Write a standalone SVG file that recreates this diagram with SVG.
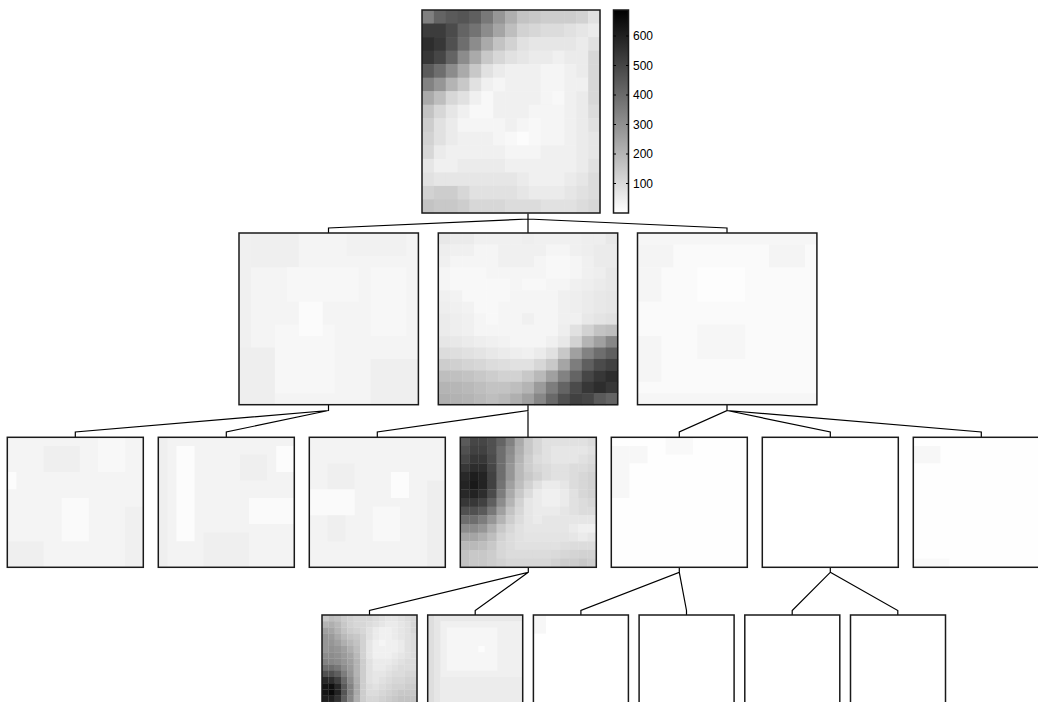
<svg xmlns="http://www.w3.org/2000/svg" width="1038" height="702" viewBox="0 0 1038 702">
<style>
.c rect{width:1.04px;height:1.04px}
.frame{fill:none;stroke:#1a1a1a;stroke-width:1.5}
#connectors path{fill:none;stroke:#000;stroke-width:1.2}
.tick{stroke:#000;stroke-width:1}
text{font-family:"Liberation Sans",Arial,sans-serif;font-size:12px;fill:#000}
</style>
<defs>
<linearGradient id="cbar" x1="0" y1="0" x2="0" y2="1"><stop offset="0" stop-color="#000"/><stop offset="1" stop-color="#fff"/></linearGradient>
</defs>
<rect width="1038" height="702" fill="#fff"/>

<g id="connectors">
<path d="M528,213V219L328.5,228V233M528,219V233M528,219L727,228V233"/>
<path d="M328.5,405V410.5L75.3,432V437.3M328.5,410.5L226.3,432V437.3"/>
<path d="M528,405V410.5L377.3,432V437.3M528,410.5V437.3"/>
<path d="M727,405V410.5L679.3,432V437.3M727,410.5L830.3,432V437.3M727,410.5L981.3,432V437.3"/>
<path d="M528.3,567.3V572.3L369.5,610.5V615M528.3,572.3L475.2,610.5V615"/>
<path d="M679.3,567.3V572.3L580.9,610.5V615M679.3,572.3L686.5,610.5V615"/>
<path d="M830.3,567.3V572.3L792.2,610.5V615M830.3,572.3L897.8,610.5V615"/>
</g>

<g id="root">
<g class="c" transform="translate(422,10) scale(11.867,13.533)">
<g><rect x="0" fill="#808080"/><rect x="1" fill="#646464"/><rect x="2" fill="#5a5a5a"/><rect x="3" fill="#555555"/><rect x="4" fill="#5f5f5f"/><rect x="5" fill="#787878"/><rect x="6" fill="#969696"/><rect x="7" fill="#afafaf"/><rect x="8" fill="#c3c3c3"/><rect x="9" fill="#c8c8c8"/><rect x="10" fill="#cdcdcd"/><rect x="11" fill="#cdcdcd"/><rect x="12" fill="#cdcdcd"/><rect x="13" fill="#d2d2d2"/><rect x="14" fill="#e1e1e1"/></g>
<g transform="translate(0,1)"><rect x="0" fill="#3c3c3c"/><rect x="1" fill="#3c3c3c"/><rect x="2" fill="#4b4b4b"/><rect x="3" fill="#646464"/><rect x="4" fill="#737373"/><rect x="5" fill="#8c8c8c"/><rect x="6" fill="#a5a5a5"/><rect x="7" fill="#bebebe"/><rect x="8" fill="#d2d2d2"/><rect x="9" fill="#d7d7d7"/><rect x="10" fill="#dcdcdc"/><rect x="11" fill="#dcdcdc"/><rect x="12" fill="#e1e1e1"/><rect x="13" fill="#e6e6e6"/><rect x="14" fill="#ebebeb"/></g>
<g transform="translate(0,2)"><rect x="0" fill="#2d2d2d"/><rect x="1" fill="#373737"/><rect x="2" fill="#505050"/><rect x="3" fill="#6e6e6e"/><rect x="4" fill="#8c8c8c"/><rect x="5" fill="#aaaaaa"/><rect x="6" fill="#c3c3c3"/><rect x="7" fill="#d2d2d2"/><rect x="8" fill="#e1e1e1"/><rect x="9" fill="#e6e6e6"/><rect x="10" fill="#e6e6e6"/><rect x="11" fill="#e6e6e6"/><rect x="12" fill="#e6e6e6"/><rect x="13" fill="#ebebeb"/><rect x="14" fill="#e1e1e1"/></g>
<g transform="translate(0,3)"><rect x="0" fill="#373737"/><rect x="1" fill="#464646"/><rect x="2" fill="#646464"/><rect x="3" fill="#8c8c8c"/><rect x="4" fill="#aaaaaa"/><rect x="5" fill="#c8c8c8"/><rect x="6" fill="#d7d7d7"/><rect x="7" fill="#e1e1e1"/><rect x="8" fill="#e6e6e6"/><rect x="9" fill="#ebebeb"/><rect x="10" fill="#ebebeb"/><rect x="11" fill="#f0f0f0"/><rect x="12" fill="#ebebeb"/><rect x="13" fill="#ebebeb"/><rect x="14" fill="#d7d7d7"/></g>
<g transform="translate(0,4)"><rect x="0" fill="#5a5a5a"/><rect x="1" fill="#6e6e6e"/><rect x="2" fill="#8c8c8c"/><rect x="3" fill="#aaaaaa"/><rect x="4" fill="#c8c8c8"/><rect x="5" fill="#e1e1e1"/><rect x="6" fill="#ebebeb"/><rect x="7" fill="#f0f0f0"/><rect x="8" fill="#f0f0f0"/><rect x="9" fill="#f0f0f0"/><rect x="10" fill="#f5f5f5"/><rect x="11" fill="#f5f5f5"/><rect x="12" fill="#f0f0f0"/><rect x="13" fill="#ebebeb"/><rect x="14" fill="#d7d7d7"/></g>
<g transform="translate(0,5)"><rect x="0" fill="#828282"/><rect x="1" fill="#969696"/><rect x="2" fill="#b4b4b4"/><rect x="3" fill="#c8c8c8"/><rect x="4" fill="#e1e1e1"/><rect x="5" fill="#f0f0f0"/><rect x="6" fill="#f5f5f5"/><rect x="7" fill="#f0f0f0"/><rect x="8" fill="#f0f0f0"/><rect x="9" fill="#f0f0f0"/><rect x="10" fill="#f5f5f5"/><rect x="11" fill="#f5f5f5"/><rect x="12" fill="#f0f0f0"/><rect x="13" fill="#f0f0f0"/><rect x="14" fill="#d7d7d7"/></g>
<g transform="translate(0,6)"><rect x="0" fill="#aaaaaa"/><rect x="1" fill="#bebebe"/><rect x="2" fill="#d7d7d7"/><rect x="3" fill="#e1e1e1"/><rect x="4" fill="#f0f0f0"/><rect x="5" fill="#f8f8f8"/><rect x="6" fill="#f0f0f0"/><rect x="7" fill="#f0f0f0"/><rect x="8" fill="#f0f0f0"/><rect x="9" fill="#f0f0f0"/><rect x="10" fill="#f5f5f5"/><rect x="11" fill="#f8f8f8"/><rect x="12" fill="#f0f0f0"/><rect x="13" fill="#ebebeb"/><rect x="14" fill="#d7d7d7"/></g>
<g transform="translate(0,7)"><rect x="0" fill="#c3c3c3"/><rect x="1" fill="#d7d7d7"/><rect x="2" fill="#e6e6e6"/><rect x="3" fill="#f0f0f0"/><rect x="4" fill="#f8f8f8"/><rect x="5" fill="#f8f8f8"/><rect x="6" fill="#f0f0f0"/><rect x="7" fill="#f0f0f0"/><rect x="8" fill="#f0f0f0"/><rect x="9" fill="#f5f5f5"/><rect x="10" fill="#f5f5f5"/><rect x="11" fill="#f5f5f5"/><rect x="12" fill="#f0f0f0"/><rect x="13" fill="#ebebeb"/><rect x="14" fill="#dcdcdc"/></g>
<g transform="translate(0,8)"><rect x="0" fill="#cdcdcd"/><rect x="1" fill="#e1e1e1"/><rect x="2" fill="#ebebeb"/><rect x="3" fill="#f5f5f5"/><rect x="4" fill="#f5f5f5"/><rect x="5" fill="#f5f5f5"/><rect x="6" fill="#f5f5f5"/><rect x="7" fill="#f0f0f0"/><rect x="8" fill="#f5f5f5"/><rect x="9" fill="#f8f8f8"/><rect x="10" fill="#f5f5f5"/><rect x="11" fill="#f5f5f5"/><rect x="12" fill="#f0f0f0"/><rect x="13" fill="#ebebeb"/><rect x="14" fill="#e1e1e1"/></g>
<g transform="translate(0,9)"><rect x="0" fill="#d2d2d2"/><rect x="1" fill="#e1e1e1"/><rect x="2" fill="#ebebeb"/><rect x="3" fill="#f0f0f0"/><rect x="4" fill="#f0f0f0"/><rect x="5" fill="#f0f0f0"/><rect x="6" fill="#f5f5f5"/><rect x="7" fill="#f8f8f8"/><rect x="8" fill="#fcfcfc"/><rect x="9" fill="#f8f8f8"/><rect x="10" fill="#f5f5f5"/><rect x="11" fill="#f5f5f5"/><rect x="12" fill="#f0f0f0"/><rect x="13" fill="#ebebeb"/><rect x="14" fill="#e6e6e6"/></g>
<g transform="translate(0,10)"><rect x="0" fill="#d7d7d7"/><rect x="1" fill="#ebebeb"/><rect x="2" fill="#f0f0f0"/><rect x="3" fill="#f0f0f0"/><rect x="4" fill="#f0f0f0"/><rect x="5" fill="#f0f0f0"/><rect x="6" fill="#f0f0f0"/><rect x="7" fill="#f5f5f5"/><rect x="8" fill="#f5f5f5"/><rect x="9" fill="#f5f5f5"/><rect x="10" fill="#f0f0f0"/><rect x="11" fill="#f0f0f0"/><rect x="12" fill="#f0f0f0"/><rect x="13" fill="#ebebeb"/><rect x="14" fill="#e6e6e6"/></g>
<g transform="translate(0,11)"><rect x="0" fill="#e6e6e6"/><rect x="1" fill="#f0f0f0"/><rect x="2" fill="#f0f0f0"/><rect x="3" fill="#ebebeb"/><rect x="4" fill="#ebebeb"/><rect x="5" fill="#ebebeb"/><rect x="6" fill="#ebebeb"/><rect x="7" fill="#f0f0f0"/><rect x="8" fill="#f0f0f0"/><rect x="9" fill="#f0f0f0"/><rect x="10" fill="#f0f0f0"/><rect x="11" fill="#f0f0f0"/><rect x="12" fill="#f0f0f0"/><rect x="13" fill="#ebebeb"/><rect x="14" fill="#e1e1e1"/></g>
<g transform="translate(0,12)"><rect x="0" fill="#e1e1e1"/><rect x="1" fill="#e6e6e6"/><rect x="2" fill="#e6e6e6"/><rect x="3" fill="#e6e6e6"/><rect x="4" fill="#e6e6e6"/><rect x="5" fill="#e6e6e6"/><rect x="6" fill="#e6e6e6"/><rect x="7" fill="#e6e6e6"/><rect x="8" fill="#ebebeb"/><rect x="9" fill="#f0f0f0"/><rect x="10" fill="#f0f0f0"/><rect x="11" fill="#f0f0f0"/><rect x="12" fill="#ebebeb"/><rect x="13" fill="#e6e6e6"/><rect x="14" fill="#dcdcdc"/></g>
<g transform="translate(0,13)"><rect x="0" fill="#d2d2d2"/><rect x="1" fill="#cdcdcd"/><rect x="2" fill="#cdcdcd"/><rect x="3" fill="#d7d7d7"/><rect x="4" fill="#e1e1e1"/><rect x="5" fill="#e1e1e1"/><rect x="6" fill="#e1e1e1"/><rect x="7" fill="#e1e1e1"/><rect x="8" fill="#e6e6e6"/><rect x="9" fill="#ebebeb"/><rect x="10" fill="#ebebeb"/><rect x="11" fill="#ebebeb"/><rect x="12" fill="#e6e6e6"/><rect x="13" fill="#e1e1e1"/><rect x="14" fill="#dcdcdc"/></g>
<g transform="translate(0,14)"><rect x="0" fill="#c3c3c3"/><rect x="1" fill="#c8c8c8"/><rect x="2" fill="#c8c8c8"/><rect x="3" fill="#cdcdcd"/><rect x="4" fill="#d7d7d7"/><rect x="5" fill="#d7d7d7"/><rect x="6" fill="#d7d7d7"/><rect x="7" fill="#dcdcdc"/><rect x="8" fill="#dcdcdc"/><rect x="9" fill="#dcdcdc"/><rect x="10" fill="#e1e1e1"/><rect x="11" fill="#e1e1e1"/><rect x="12" fill="#e1e1e1"/><rect x="13" fill="#dcdcdc"/><rect x="14" fill="#d7d7d7"/></g>
</g>
<rect class="frame" x="422" y="10" width="178" height="203"/>
<rect x="613.5" y="10" width="15" height="203" fill="url(#cbar)" stroke="#1a1a1a" stroke-width="1.5"/>
<path class="tick" d="M613.5,36H616M626,36H628.5M613.5,65.5H616M626,65.5H628.5M613.5,95H616M626,95H628.5M613.5,124.5H616M626,124.5H628.5M613.5,154H616M626,154H628.5M613.5,183.5H616M626,183.5H628.5"/>
<text x="633" y="40.3">600</text>
<text x="633" y="69.8">500</text>
<text x="633" y="99.3">400</text>
<text x="633" y="128.8">300</text>
<text x="633" y="158.3">200</text>
<text x="633" y="187.8">100</text>
</g>

<g id="n2a">
<g transform="translate(239,233) scale(11.96,11.45)">
<rect width="15" height="15" fill="#f4f4f4"/>
<rect x="0" y="0" width="1" height="15" fill="#f0f0f0"/>
<rect x="1" y="0" width="4" height="3" fill="#efefef"/>
<rect x="9" y="0" width="5" height="2" fill="#f1f1f1"/>
<rect x="4" y="3" width="6" height="3" fill="#f7f7f7"/>
<rect x="11" y="3" width="3" height="6" fill="#f7f7f7"/>
<rect x="3" y="8" width="5" height="6" fill="#f7f7f7"/>
<rect x="5" y="6" width="2" height="3" fill="#fbfbfb"/>
<rect x="0" y="10" width="3" height="5" fill="#eeeeee"/>
<rect x="11" y="11" width="4" height="4" fill="#efefef"/>
</g>
<rect class="frame" x="239" y="233" width="179.4" height="171.7"/>
</g>

<g id="n2b">
<g class="c" transform="translate(438.3,233) scale(11.96,11.45)">
<g><rect x="0" fill="#e8e8e8"/><rect x="1" fill="#ebebeb"/><rect x="2" fill="#ebebeb"/><rect x="3" fill="#f0f0f0"/><rect x="4" fill="#f0f0f0"/><rect x="5" fill="#f0f0f0"/><rect x="6" fill="#f0f0f0"/><rect x="7" fill="#eeeeee"/><rect x="8" fill="#f0f0f0"/><rect x="9" fill="#f0f0f0"/><rect x="10" fill="#f0f0f0"/><rect x="11" fill="#f0f0f0"/><rect x="12" fill="#eeeeee"/><rect x="13" fill="#eeeeee"/><rect x="14" fill="#e8e8e8"/></g>
<g transform="translate(0,1)"><rect x="0" fill="#eeeeee"/><rect x="1" fill="#f0f0f0"/><rect x="2" fill="#f0f0f0"/><rect x="3" fill="#f5f5f5"/><rect x="4" fill="#f5f5f5"/><rect x="5" fill="#f0f0f0"/><rect x="6" fill="#f0f0f0"/><rect x="7" fill="#f0f0f0"/><rect x="8" fill="#f0f0f0"/><rect x="9" fill="#f5f5f5"/><rect x="10" fill="#f5f5f5"/><rect x="11" fill="#f0f0f0"/><rect x="12" fill="#eeeeee"/><rect x="13" fill="#ebebeb"/><rect x="14" fill="#ebebeb"/></g>
<g transform="translate(0,2)"><rect x="0" fill="#f0f0f0"/><rect x="1" fill="#f5f5f5"/><rect x="2" fill="#f5f5f5"/><rect x="3" fill="#f5f5f5"/><rect x="4" fill="#f5f5f5"/><rect x="5" fill="#f0f0f0"/><rect x="6" fill="#f0f0f0"/><rect x="7" fill="#f0f0f0"/><rect x="8" fill="#f5f5f5"/><rect x="9" fill="#f8f8f8"/><rect x="10" fill="#f8f8f8"/><rect x="11" fill="#f5f5f5"/><rect x="12" fill="#f0f0f0"/><rect x="13" fill="#ebebeb"/><rect x="14" fill="#ebebeb"/></g>
<g transform="translate(0,3)"><rect x="0" fill="#f5f5f5"/><rect x="1" fill="#f8f8f8"/><rect x="2" fill="#f8f8f8"/><rect x="3" fill="#f8f8f8"/><rect x="4" fill="#f5f5f5"/><rect x="5" fill="#f5f5f5"/><rect x="6" fill="#f5f5f5"/><rect x="7" fill="#f5f5f5"/><rect x="8" fill="#f5f5f5"/><rect x="9" fill="#f8f8f8"/><rect x="10" fill="#f8f8f8"/><rect x="11" fill="#f5f5f5"/><rect x="12" fill="#f0f0f0"/><rect x="13" fill="#eeeeee"/><rect x="14" fill="#e8e8e8"/></g>
<g transform="translate(0,4)"><rect x="0" fill="#f5f5f5"/><rect x="1" fill="#f8f8f8"/><rect x="2" fill="#f8f8f8"/><rect x="3" fill="#f8f8f8"/><rect x="4" fill="#f8f8f8"/><rect x="5" fill="#f8f8f8"/><rect x="6" fill="#f5f5f5"/><rect x="7" fill="#f8f8f8"/><rect x="8" fill="#f8f8f8"/><rect x="9" fill="#f5f5f5"/><rect x="10" fill="#f5f5f5"/><rect x="11" fill="#f0f0f0"/><rect x="12" fill="#eeeeee"/><rect x="13" fill="#ebebeb"/><rect x="14" fill="#e8e8e8"/></g>
<g transform="translate(0,5)"><rect x="0" fill="#f0f0f0"/><rect x="1" fill="#f2f2f2"/><rect x="2" fill="#f8f8f8"/><rect x="3" fill="#f8f8f8"/><rect x="4" fill="#f8f8f8"/><rect x="5" fill="#f8f8f8"/><rect x="6" fill="#f5f5f5"/><rect x="7" fill="#f5f5f5"/><rect x="8" fill="#f5f5f5"/><rect x="9" fill="#f5f5f5"/><rect x="10" fill="#f0f0f0"/><rect x="11" fill="#eeeeee"/><rect x="12" fill="#ebebeb"/><rect x="13" fill="#e8e8e8"/><rect x="14" fill="#e6e6e6"/></g>
<g transform="translate(0,6)"><rect x="0" fill="#eeeeee"/><rect x="1" fill="#f0f0f0"/><rect x="2" fill="#f2f2f2"/><rect x="3" fill="#f8f8f8"/><rect x="4" fill="#f8f8f8"/><rect x="5" fill="#f5f5f5"/><rect x="6" fill="#f5f5f5"/><rect x="7" fill="#f5f5f5"/><rect x="8" fill="#f5f5f5"/><rect x="9" fill="#f5f5f5"/><rect x="10" fill="#f0f0f0"/><rect x="11" fill="#eeeeee"/><rect x="12" fill="#ebebeb"/><rect x="13" fill="#e8e8e8"/><rect x="14" fill="#e6e6e6"/></g>
<g transform="translate(0,7)"><rect x="0" fill="#ebebeb"/><rect x="1" fill="#eeeeee"/><rect x="2" fill="#f0f0f0"/><rect x="3" fill="#f5f5f5"/><rect x="4" fill="#f8f8f8"/><rect x="5" fill="#f5f5f5"/><rect x="6" fill="#f5f5f5"/><rect x="7" fill="#f0f0f0"/><rect x="8" fill="#f5f5f5"/><rect x="9" fill="#f5f5f5"/><rect x="10" fill="#f0f0f0"/><rect x="11" fill="#f0f0f0"/><rect x="12" fill="#e8e8e8"/><rect x="13" fill="#e4e4e4"/><rect x="14" fill="#e1e1e1"/></g>
<g transform="translate(0,8)"><rect x="0" fill="#ebebeb"/><rect x="1" fill="#eeeeee"/><rect x="2" fill="#f0f0f0"/><rect x="3" fill="#f5f5f5"/><rect x="4" fill="#f5f5f5"/><rect x="5" fill="#f5f5f5"/><rect x="6" fill="#f5f5f5"/><rect x="7" fill="#f5f5f5"/><rect x="8" fill="#f5f5f5"/><rect x="9" fill="#f5f5f5"/><rect x="10" fill="#eeeeee"/><rect x="11" fill="#e1e1e1"/><rect x="12" fill="#d2d2d2"/><rect x="13" fill="#c3c3c3"/><rect x="14" fill="#bebebe"/></g>
<g transform="translate(0,9)"><rect x="0" fill="#e6e6e6"/><rect x="1" fill="#e8e8e8"/><rect x="2" fill="#ebebeb"/><rect x="3" fill="#eeeeee"/><rect x="4" fill="#f0f0f0"/><rect x="5" fill="#f2f2f2"/><rect x="6" fill="#f5f5f5"/><rect x="7" fill="#f5f5f5"/><rect x="8" fill="#f5f5f5"/><rect x="9" fill="#f0f0f0"/><rect x="10" fill="#e8e8e8"/><rect x="11" fill="#d2d2d2"/><rect x="12" fill="#b4b4b4"/><rect x="13" fill="#a0a0a0"/><rect x="14" fill="#878787"/></g>
<g transform="translate(0,10)"><rect x="0" fill="#dcdcdc"/><rect x="1" fill="#dedede"/><rect x="2" fill="#e1e1e1"/><rect x="3" fill="#e4e4e4"/><rect x="4" fill="#e8e8e8"/><rect x="5" fill="#ebebeb"/><rect x="6" fill="#eeeeee"/><rect x="7" fill="#f0f0f0"/><rect x="8" fill="#ebebeb"/><rect x="9" fill="#e1e1e1"/><rect x="10" fill="#c8c8c8"/><rect x="11" fill="#a0a0a0"/><rect x="12" fill="#828282"/><rect x="13" fill="#6e6e6e"/><rect x="14" fill="#5f5f5f"/></g>
<g transform="translate(0,11)"><rect x="0" fill="#cdcdcd"/><rect x="1" fill="#d0d0d0"/><rect x="2" fill="#d4d4d4"/><rect x="3" fill="#d7d7d7"/><rect x="4" fill="#dcdcdc"/><rect x="5" fill="#dedede"/><rect x="6" fill="#e1e1e1"/><rect x="7" fill="#e1e1e1"/><rect x="8" fill="#d7d7d7"/><rect x="9" fill="#c8c8c8"/><rect x="10" fill="#a5a5a5"/><rect x="11" fill="#7d7d7d"/><rect x="12" fill="#5f5f5f"/><rect x="13" fill="#4b4b4b"/><rect x="14" fill="#414141"/></g>
<g transform="translate(0,12)"><rect x="0" fill="#bebebe"/><rect x="1" fill="#c0c0c0"/><rect x="2" fill="#c3c3c3"/><rect x="3" fill="#c8c8c8"/><rect x="4" fill="#cdcdcd"/><rect x="5" fill="#d2d2d2"/><rect x="6" fill="#d2d2d2"/><rect x="7" fill="#c8c8c8"/><rect x="8" fill="#b9b9b9"/><rect x="9" fill="#a0a0a0"/><rect x="10" fill="#828282"/><rect x="11" fill="#646464"/><rect x="12" fill="#464646"/><rect x="13" fill="#373737"/><rect x="14" fill="#2d2d2d"/></g>
<g transform="translate(0,13)"><rect x="0" fill="#b4b4b4"/><rect x="1" fill="#b6b6b6"/><rect x="2" fill="#b9b9b9"/><rect x="3" fill="#bebebe"/><rect x="4" fill="#c3c3c3"/><rect x="5" fill="#c3c3c3"/><rect x="6" fill="#bebebe"/><rect x="7" fill="#b4b4b4"/><rect x="8" fill="#9b9b9b"/><rect x="9" fill="#7d7d7d"/><rect x="10" fill="#646464"/><rect x="11" fill="#4b4b4b"/><rect x="12" fill="#373737"/><rect x="13" fill="#2d2d2d"/><rect x="14" fill="#373737"/></g>
<g transform="translate(0,14)"><rect x="0" fill="#afafaf"/><rect x="1" fill="#b2b2b2"/><rect x="2" fill="#b4b4b4"/><rect x="3" fill="#b9b9b9"/><rect x="4" fill="#bebebe"/><rect x="5" fill="#b9b9b9"/><rect x="6" fill="#afafaf"/><rect x="7" fill="#a0a0a0"/><rect x="8" fill="#878787"/><rect x="9" fill="#696969"/><rect x="10" fill="#505050"/><rect x="11" fill="#414141"/><rect x="12" fill="#464646"/><rect x="13" fill="#5a5a5a"/><rect x="14" fill="#646464"/></g>
</g>
<rect class="frame" x="438.3" y="233" width="179.4" height="171.7"/>
</g>

<g id="n2c">
<g transform="translate(637.5,233) scale(11.96,11.45)">
<rect width="15" height="15" fill="#fafafa"/>
<rect x="0" y="0" width="15" height="1" fill="#f6f6f6"/>
<rect x="0" y="1" width="3" height="2" fill="#f4f4f4"/>
<rect x="11" y="1" width="3" height="2" fill="#f4f4f4"/>
<rect x="0" y="3" width="2" height="3" fill="#f5f5f5"/>
<rect x="5" y="3" width="4" height="3" fill="#fdfdfd"/>
<rect x="5" y="8" width="4" height="3" fill="#f6f6f6"/>
<rect x="0" y="9" width="2" height="4" fill="#f5f5f5"/>
<rect x="0" y="14" width="15" height="1" fill="#f6f6f6"/>
</g>
<rect class="frame" x="637.5" y="233" width="179.4" height="171.7"/>
</g>

<g id="n3a">
<g transform="translate(7.3,437.3) scale(9.067,8.667)">
<rect width="15" height="15" fill="#f4f4f4"/>
<rect x="4" y="1" width="4" height="3" fill="#efefef"/>
<rect x="10" y="0" width="3" height="4" fill="#f8f8f8"/>
<rect x="0" y="4" width="1" height="2" fill="#fcfcfc"/>
<rect x="6" y="7" width="3" height="5" fill="#fafafa"/>
<rect x="0" y="12" width="4" height="3" fill="#efefef"/>
<rect x="13" y="8" width="2" height="7" fill="#f0f0f0"/>
</g>
<rect class="frame" x="7.3" y="437.3" width="136" height="130"/>
</g>

<g id="n3b">
<g transform="translate(158.3,437.3) scale(9.067,8.667)">
<rect width="15" height="15" fill="#f3f3f3"/>
<rect x="0" y="0" width="1" height="15" fill="#efefef"/>
<rect x="2" y="1" width="2" height="11" fill="#fcfcfc"/>
<rect x="9" y="2" width="3" height="3" fill="#efefef"/>
<rect x="13" y="1" width="2" height="3" fill="#fcfcfc"/>
<rect x="10" y="7" width="5" height="3" fill="#fafafa"/>
<rect x="5" y="11" width="5" height="4" fill="#efefef"/>
</g>
<rect class="frame" x="158.3" y="437.3" width="136" height="130"/>
</g>

<g id="n3c">
<g transform="translate(309.3,437.3) scale(9.067,8.667)">
<rect width="15" height="15" fill="#f3f3f3"/>
<rect x="2" y="3" width="3" height="3" fill="#efefef"/>
<rect x="0" y="6" width="5" height="3" fill="#fafafa"/>
<rect x="9" y="4" width="2" height="3" fill="#fcfcfc"/>
<rect x="13" y="5" width="2" height="10" fill="#eeeeee"/>
<rect x="7" y="8" width="3" height="4" fill="#f8f8f8"/>
<rect x="2" y="9" width="2" height="3" fill="#efefef"/>
</g>
<rect class="frame" x="309.3" y="437.3" width="136" height="130"/>
</g>

<g id="n3d">
<g class="c" transform="translate(460.3,437.3) scale(9.067,8.667)">
<g><rect x="0" fill="#5a5a5a"/><rect x="1" fill="#464646"/><rect x="2" fill="#464646"/><rect x="3" fill="#505050"/><rect x="4" fill="#646464"/><rect x="5" fill="#828282"/><rect x="6" fill="#aaaaaa"/><rect x="7" fill="#c8c8c8"/><rect x="8" fill="#d7d7d7"/><rect x="9" fill="#e1e1e1"/><rect x="10" fill="#e1e1e1"/><rect x="11" fill="#e1e1e1"/><rect x="12" fill="#e1e1e1"/><rect x="13" fill="#e1e1e1"/><rect x="14" fill="#dcdcdc"/></g>
<g transform="translate(0,1)"><rect x="0" fill="#505050"/><rect x="1" fill="#414141"/><rect x="2" fill="#414141"/><rect x="3" fill="#505050"/><rect x="4" fill="#6e6e6e"/><rect x="5" fill="#8c8c8c"/><rect x="6" fill="#afafaf"/><rect x="7" fill="#c8c8c8"/><rect x="8" fill="#d7d7d7"/><rect x="9" fill="#e1e1e1"/><rect x="10" fill="#e6e6e6"/><rect x="11" fill="#e6e6e6"/><rect x="12" fill="#e6e6e6"/><rect x="13" fill="#e6e6e6"/><rect x="14" fill="#e1e1e1"/></g>
<g transform="translate(0,2)"><rect x="0" fill="#464646"/><rect x="1" fill="#373737"/><rect x="2" fill="#373737"/><rect x="3" fill="#4b4b4b"/><rect x="4" fill="#6e6e6e"/><rect x="5" fill="#919191"/><rect x="6" fill="#b4b4b4"/><rect x="7" fill="#cdcdcd"/><rect x="8" fill="#dcdcdc"/><rect x="9" fill="#e1e1e1"/><rect x="10" fill="#e6e6e6"/><rect x="11" fill="#e6e6e6"/><rect x="12" fill="#e6e6e6"/><rect x="13" fill="#e1e1e1"/><rect x="14" fill="#dcdcdc"/></g>
<g transform="translate(0,3)"><rect x="0" fill="#373737"/><rect x="1" fill="#2d2d2d"/><rect x="2" fill="#2d2d2d"/><rect x="3" fill="#464646"/><rect x="4" fill="#6e6e6e"/><rect x="5" fill="#969696"/><rect x="6" fill="#b9b9b9"/><rect x="7" fill="#cdcdcd"/><rect x="8" fill="#d7d7d7"/><rect x="9" fill="#dcdcdc"/><rect x="10" fill="#e1e1e1"/><rect x="11" fill="#e1e1e1"/><rect x="12" fill="#dcdcdc"/><rect x="13" fill="#dcdcdc"/><rect x="14" fill="#d7d7d7"/></g>
<g transform="translate(0,4)"><rect x="0" fill="#282828"/><rect x="1" fill="#1e1e1e"/><rect x="2" fill="#232323"/><rect x="3" fill="#414141"/><rect x="4" fill="#6e6e6e"/><rect x="5" fill="#969696"/><rect x="6" fill="#b9b9b9"/><rect x="7" fill="#c8c8c8"/><rect x="8" fill="#d2d2d2"/><rect x="9" fill="#dcdcdc"/><rect x="10" fill="#e1e1e1"/><rect x="11" fill="#e1e1e1"/><rect x="12" fill="#dcdcdc"/><rect x="13" fill="#d7d7d7"/><rect x="14" fill="#d2d2d2"/></g>
<g transform="translate(0,5)"><rect x="0" fill="#232323"/><rect x="1" fill="#191919"/><rect x="2" fill="#232323"/><rect x="3" fill="#414141"/><rect x="4" fill="#737373"/><rect x="5" fill="#a0a0a0"/><rect x="6" fill="#bebebe"/><rect x="7" fill="#d2d2d2"/><rect x="8" fill="#e1e1e1"/><rect x="9" fill="#ebebeb"/><rect x="10" fill="#ebebeb"/><rect x="11" fill="#e6e6e6"/><rect x="12" fill="#dcdcdc"/><rect x="13" fill="#d7d7d7"/><rect x="14" fill="#d2d2d2"/></g>
<g transform="translate(0,6)"><rect x="0" fill="#282828"/><rect x="1" fill="#232323"/><rect x="2" fill="#2d2d2d"/><rect x="3" fill="#4b4b4b"/><rect x="4" fill="#7d7d7d"/><rect x="5" fill="#aaaaaa"/><rect x="6" fill="#c8c8c8"/><rect x="7" fill="#dcdcdc"/><rect x="8" fill="#ebebeb"/><rect x="9" fill="#f0f0f0"/><rect x="10" fill="#f0f0f0"/><rect x="11" fill="#ebebeb"/><rect x="12" fill="#e1e1e1"/><rect x="13" fill="#d7d7d7"/><rect x="14" fill="#d2d2d2"/></g>
<g transform="translate(0,7)"><rect x="0" fill="#373737"/><rect x="1" fill="#373737"/><rect x="2" fill="#414141"/><rect x="3" fill="#5f5f5f"/><rect x="4" fill="#8c8c8c"/><rect x="5" fill="#b4b4b4"/><rect x="6" fill="#d2d2d2"/><rect x="7" fill="#e6e6e6"/><rect x="8" fill="#ebebeb"/><rect x="9" fill="#f0f0f0"/><rect x="10" fill="#f0f0f0"/><rect x="11" fill="#ebebeb"/><rect x="12" fill="#e1e1e1"/><rect x="13" fill="#dcdcdc"/><rect x="14" fill="#d7d7d7"/></g>
<g transform="translate(0,8)"><rect x="0" fill="#505050"/><rect x="1" fill="#505050"/><rect x="2" fill="#5a5a5a"/><rect x="3" fill="#787878"/><rect x="4" fill="#a0a0a0"/><rect x="5" fill="#c3c3c3"/><rect x="6" fill="#d7d7d7"/><rect x="7" fill="#e6e6e6"/><rect x="8" fill="#ebebeb"/><rect x="9" fill="#ebebeb"/><rect x="10" fill="#ebebeb"/><rect x="11" fill="#e6e6e6"/><rect x="12" fill="#e1e1e1"/><rect x="13" fill="#dcdcdc"/><rect x="14" fill="#dcdcdc"/></g>
<g transform="translate(0,9)"><rect x="0" fill="#6e6e6e"/><rect x="1" fill="#6e6e6e"/><rect x="2" fill="#7d7d7d"/><rect x="3" fill="#969696"/><rect x="4" fill="#b4b4b4"/><rect x="5" fill="#cdcdcd"/><rect x="6" fill="#dcdcdc"/><rect x="7" fill="#e6e6e6"/><rect x="8" fill="#ebebeb"/><rect x="9" fill="#e6e6e6"/><rect x="10" fill="#e6e6e6"/><rect x="11" fill="#e6e6e6"/><rect x="12" fill="#e6e6e6"/><rect x="13" fill="#e6e6e6"/><rect x="14" fill="#e6e6e6"/></g>
<g transform="translate(0,10)"><rect x="0" fill="#8c8c8c"/><rect x="1" fill="#8c8c8c"/><rect x="2" fill="#969696"/><rect x="3" fill="#afafaf"/><rect x="4" fill="#c8c8c8"/><rect x="5" fill="#d7d7d7"/><rect x="6" fill="#e1e1e1"/><rect x="7" fill="#e6e6e6"/><rect x="8" fill="#e6e6e6"/><rect x="9" fill="#e6e6e6"/><rect x="10" fill="#e6e6e6"/><rect x="11" fill="#e6e6e6"/><rect x="12" fill="#ebebeb"/><rect x="13" fill="#f0f0f0"/><rect x="14" fill="#f0f0f0"/></g>
<g transform="translate(0,11)"><rect x="0" fill="#a5a5a5"/><rect x="1" fill="#a5a5a5"/><rect x="2" fill="#afafaf"/><rect x="3" fill="#bebebe"/><rect x="4" fill="#d2d2d2"/><rect x="5" fill="#dcdcdc"/><rect x="6" fill="#e1e1e1"/><rect x="7" fill="#e4e4e4"/><rect x="8" fill="#e4e4e4"/><rect x="9" fill="#e4e4e4"/><rect x="10" fill="#e4e4e4"/><rect x="11" fill="#e4e4e4"/><rect x="12" fill="#e6e6e6"/><rect x="13" fill="#ebebeb"/><rect x="14" fill="#e6e6e6"/></g>
<g transform="translate(0,12)"><rect x="0" fill="#b9b9b9"/><rect x="1" fill="#b9b9b9"/><rect x="2" fill="#bebebe"/><rect x="3" fill="#c8c8c8"/><rect x="4" fill="#d7d7d7"/><rect x="5" fill="#dcdcdc"/><rect x="6" fill="#e1e1e1"/><rect x="7" fill="#e1e1e1"/><rect x="8" fill="#e1e1e1"/><rect x="9" fill="#e1e1e1"/><rect x="10" fill="#e1e1e1"/><rect x="11" fill="#dedede"/><rect x="12" fill="#dcdcdc"/><rect x="13" fill="#dcdcdc"/><rect x="14" fill="#dcdcdc"/></g>
<g transform="translate(0,13)"><rect x="0" fill="#c3c3c3"/><rect x="1" fill="#c8c8c8"/><rect x="2" fill="#c8c8c8"/><rect x="3" fill="#cdcdcd"/><rect x="4" fill="#d7d7d7"/><rect x="5" fill="#dcdcdc"/><rect x="6" fill="#dcdcdc"/><rect x="7" fill="#dcdcdc"/><rect x="8" fill="#dcdcdc"/><rect x="9" fill="#dcdcdc"/><rect x="10" fill="#dadada"/><rect x="11" fill="#d7d7d7"/><rect x="12" fill="#d4d4d4"/><rect x="13" fill="#d2d2d2"/><rect x="14" fill="#d2d2d2"/></g>
<g transform="translate(0,14)"><rect x="0" fill="#c3c3c3"/><rect x="1" fill="#c8c8c8"/><rect x="2" fill="#c8c8c8"/><rect x="3" fill="#cdcdcd"/><rect x="4" fill="#d2d2d2"/><rect x="5" fill="#d7d7d7"/><rect x="6" fill="#d7d7d7"/><rect x="7" fill="#d7d7d7"/><rect x="8" fill="#d7d7d7"/><rect x="9" fill="#d7d7d7"/><rect x="10" fill="#d2d2d2"/><rect x="11" fill="#cdcdcd"/><rect x="12" fill="#cdcdcd"/><rect x="13" fill="#c8c8c8"/><rect x="14" fill="#cdcdcd"/></g>
</g>
<rect class="frame" x="460.3" y="437.3" width="136" height="130"/>
</g>

<g id="n3e">
<g transform="translate(611.3,437.3) scale(9.067,8.667)">
<rect width="15" height="15" fill="#fefefe"/>
<rect x="0" y="1" width="2" height="6" fill="#f7f7f7"/>
<rect x="2" y="1" width="2" height="2" fill="#f7f7f7"/>
<rect x="6" y="0" width="3" height="2" fill="#f9f9f9"/>
</g>
<rect class="frame" x="611.3" y="437.3" width="136" height="130"/>
</g>

<g id="n3f">
<rect class="frame" x="762.3" y="437.3" width="136" height="130" style="fill:#fff"/>
</g>

<g id="n3g">
<g transform="translate(913.3,437.3) scale(9.067,8.667)">
<rect width="15" height="15" fill="#fefefe"/>
<rect x="0" y="1" width="3" height="2" fill="#f7f7f7"/>
<rect x="0" y="14" width="4" height="1" fill="#f9f9f9"/>
</g>
<rect class="frame" x="913.3" y="437.3" width="136" height="130"/>
</g>

<g id="n4a">
<g class="c" transform="translate(322,615) scale(6.333,6.2)">
<g><rect x="0" fill="#c8c8c8"/><rect x="1" fill="#bebebe"/><rect x="2" fill="#c3c3c3"/><rect x="3" fill="#cdcdcd"/><rect x="4" fill="#d2d2d2"/><rect x="5" fill="#d7d7d7"/><rect x="6" fill="#d7d7d7"/><rect x="7" fill="#d7d7d7"/><rect x="8" fill="#dcdcdc"/><rect x="9" fill="#e1e1e1"/><rect x="10" fill="#e6e6e6"/><rect x="11" fill="#e6e6e6"/><rect x="12" fill="#e1e1e1"/><rect x="13" fill="#dcdcdc"/><rect x="14" fill="#d7d7d7"/></g>
<g transform="translate(0,1)"><rect x="0" fill="#b4b4b4"/><rect x="1" fill="#afafaf"/><rect x="2" fill="#b9b9b9"/><rect x="3" fill="#c8c8c8"/><rect x="4" fill="#d2d2d2"/><rect x="5" fill="#d7d7d7"/><rect x="6" fill="#d7d7d7"/><rect x="7" fill="#dcdcdc"/><rect x="8" fill="#e1e1e1"/><rect x="9" fill="#e6e6e6"/><rect x="10" fill="#ebebeb"/><rect x="11" fill="#ebebeb"/><rect x="12" fill="#e6e6e6"/><rect x="13" fill="#e1e1e1"/><rect x="14" fill="#d7d7d7"/></g>
<g transform="translate(0,2)"><rect x="0" fill="#a0a0a0"/><rect x="1" fill="#a5a5a5"/><rect x="2" fill="#b4b4b4"/><rect x="3" fill="#c3c3c3"/><rect x="4" fill="#cdcdcd"/><rect x="5" fill="#d2d2d2"/><rect x="6" fill="#d7d7d7"/><rect x="7" fill="#e1e1e1"/><rect x="8" fill="#ebebeb"/><rect x="9" fill="#f0f0f0"/><rect x="10" fill="#f0f0f0"/><rect x="11" fill="#ebebeb"/><rect x="12" fill="#e6e6e6"/><rect x="13" fill="#e1e1e1"/><rect x="14" fill="#d7d7d7"/></g>
<g transform="translate(0,3)"><rect x="0" fill="#969696"/><rect x="1" fill="#9b9b9b"/><rect x="2" fill="#aaaaaa"/><rect x="3" fill="#b9b9b9"/><rect x="4" fill="#c3c3c3"/><rect x="5" fill="#c8c8c8"/><rect x="6" fill="#d2d2d2"/><rect x="7" fill="#e1e1e1"/><rect x="8" fill="#ebebeb"/><rect x="9" fill="#f0f0f0"/><rect x="10" fill="#f0f0f0"/><rect x="11" fill="#ebebeb"/><rect x="12" fill="#e6e6e6"/><rect x="13" fill="#e1e1e1"/><rect x="14" fill="#dcdcdc"/></g>
<g transform="translate(0,4)"><rect x="0" fill="#969696"/><rect x="1" fill="#969696"/><rect x="2" fill="#a0a0a0"/><rect x="3" fill="#afafaf"/><rect x="4" fill="#b9b9b9"/><rect x="5" fill="#c3c3c3"/><rect x="6" fill="#d2d2d2"/><rect x="7" fill="#e6e6e6"/><rect x="8" fill="#f0f0f0"/><rect x="9" fill="#f5f5f5"/><rect x="10" fill="#f0f0f0"/><rect x="11" fill="#f0f0f0"/><rect x="12" fill="#ebebeb"/><rect x="13" fill="#e1e1e1"/><rect x="14" fill="#dcdcdc"/></g>
<g transform="translate(0,5)"><rect x="0" fill="#969696"/><rect x="1" fill="#919191"/><rect x="2" fill="#969696"/><rect x="3" fill="#a0a0a0"/><rect x="4" fill="#afafaf"/><rect x="5" fill="#bebebe"/><rect x="6" fill="#d2d2d2"/><rect x="7" fill="#e6e6e6"/><rect x="8" fill="#f0f0f0"/><rect x="9" fill="#f0f0f0"/><rect x="10" fill="#f0f0f0"/><rect x="11" fill="#f0f0f0"/><rect x="12" fill="#ebebeb"/><rect x="13" fill="#e1e1e1"/><rect x="14" fill="#dcdcdc"/></g>
<g transform="translate(0,6)"><rect x="0" fill="#8c8c8c"/><rect x="1" fill="#8c8c8c"/><rect x="2" fill="#919191"/><rect x="3" fill="#9b9b9b"/><rect x="4" fill="#a5a5a5"/><rect x="5" fill="#b9b9b9"/><rect x="6" fill="#d2d2d2"/><rect x="7" fill="#e6e6e6"/><rect x="8" fill="#f0f0f0"/><rect x="9" fill="#f0f0f0"/><rect x="10" fill="#f0f0f0"/><rect x="11" fill="#ebebeb"/><rect x="12" fill="#e6e6e6"/><rect x="13" fill="#e1e1e1"/><rect x="14" fill="#dcdcdc"/></g>
<g transform="translate(0,7)"><rect x="0" fill="#828282"/><rect x="1" fill="#878787"/><rect x="2" fill="#8c8c8c"/><rect x="3" fill="#969696"/><rect x="4" fill="#a0a0a0"/><rect x="5" fill="#b4b4b4"/><rect x="6" fill="#cdcdcd"/><rect x="7" fill="#e1e1e1"/><rect x="8" fill="#ebebeb"/><rect x="9" fill="#ebebeb"/><rect x="10" fill="#ebebeb"/><rect x="11" fill="#e6e6e6"/><rect x="12" fill="#e1e1e1"/><rect x="13" fill="#dcdcdc"/><rect x="14" fill="#dcdcdc"/></g>
<g transform="translate(0,8)"><rect x="0" fill="#6e6e6e"/><rect x="1" fill="#6e6e6e"/><rect x="2" fill="#787878"/><rect x="3" fill="#8c8c8c"/><rect x="4" fill="#9b9b9b"/><rect x="5" fill="#b4b4b4"/><rect x="6" fill="#cdcdcd"/><rect x="7" fill="#e1e1e1"/><rect x="8" fill="#ebebeb"/><rect x="9" fill="#ebebeb"/><rect x="10" fill="#e6e6e6"/><rect x="11" fill="#e1e1e1"/><rect x="12" fill="#dcdcdc"/><rect x="13" fill="#dcdcdc"/><rect x="14" fill="#dcdcdc"/></g>
<g transform="translate(0,9)"><rect x="0" fill="#505050"/><rect x="1" fill="#505050"/><rect x="2" fill="#5f5f5f"/><rect x="3" fill="#7d7d7d"/><rect x="4" fill="#969696"/><rect x="5" fill="#b4b4b4"/><rect x="6" fill="#cdcdcd"/><rect x="7" fill="#e1e1e1"/><rect x="8" fill="#e6e6e6"/><rect x="9" fill="#e6e6e6"/><rect x="10" fill="#e1e1e1"/><rect x="11" fill="#dcdcdc"/><rect x="12" fill="#dcdcdc"/><rect x="13" fill="#d7d7d7"/><rect x="14" fill="#d7d7d7"/></g>
<g transform="translate(0,10)"><rect x="0" fill="#282828"/><rect x="1" fill="#2d2d2d"/><rect x="2" fill="#414141"/><rect x="3" fill="#696969"/><rect x="4" fill="#8c8c8c"/><rect x="5" fill="#afafaf"/><rect x="6" fill="#cdcdcd"/><rect x="7" fill="#e1e1e1"/><rect x="8" fill="#e6e6e6"/><rect x="9" fill="#e1e1e1"/><rect x="10" fill="#dcdcdc"/><rect x="11" fill="#d7d7d7"/><rect x="12" fill="#d7d7d7"/><rect x="13" fill="#d2d2d2"/><rect x="14" fill="#d2d2d2"/></g>
<g transform="translate(0,11)"><rect x="0" fill="#141414"/><rect x="1" fill="#0f0f0f"/><rect x="2" fill="#282828"/><rect x="3" fill="#5a5a5a"/><rect x="4" fill="#828282"/><rect x="5" fill="#aaaaaa"/><rect x="6" fill="#cdcdcd"/><rect x="7" fill="#dcdcdc"/><rect x="8" fill="#e1e1e1"/><rect x="9" fill="#dcdcdc"/><rect x="10" fill="#d7d7d7"/><rect x="11" fill="#d2d2d2"/><rect x="12" fill="#d2d2d2"/><rect x="13" fill="#cdcdcd"/><rect x="14" fill="#cdcdcd"/></g>
<g transform="translate(0,12)"><rect x="0" fill="#141414"/><rect x="1" fill="#0a0a0a"/><rect x="2" fill="#232323"/><rect x="3" fill="#555555"/><rect x="4" fill="#828282"/><rect x="5" fill="#aaaaaa"/><rect x="6" fill="#cdcdcd"/><rect x="7" fill="#dcdcdc"/><rect x="8" fill="#dcdcdc"/><rect x="9" fill="#d7d7d7"/><rect x="10" fill="#d2d2d2"/><rect x="11" fill="#cdcdcd"/><rect x="12" fill="#c8c8c8"/><rect x="13" fill="#c8c8c8"/><rect x="14" fill="#c8c8c8"/></g>
<g transform="translate(0,13)"><rect x="0" fill="#1e1e1e"/><rect x="1" fill="#1e1e1e"/><rect x="2" fill="#323232"/><rect x="3" fill="#5f5f5f"/><rect x="4" fill="#878787"/><rect x="5" fill="#afafaf"/><rect x="6" fill="#cdcdcd"/><rect x="7" fill="#d7d7d7"/><rect x="8" fill="#d7d7d7"/><rect x="9" fill="#d2d2d2"/><rect x="10" fill="#cdcdcd"/><rect x="11" fill="#c8c8c8"/><rect x="12" fill="#c3c3c3"/><rect x="13" fill="#c3c3c3"/><rect x="14" fill="#c3c3c3"/></g>
<g transform="translate(0,14)"><rect x="0" fill="#3c3c3c"/><rect x="1" fill="#3c3c3c"/><rect x="2" fill="#505050"/><rect x="3" fill="#6e6e6e"/><rect x="4" fill="#919191"/><rect x="5" fill="#b4b4b4"/><rect x="6" fill="#c8c8c8"/><rect x="7" fill="#d2d2d2"/><rect x="8" fill="#d2d2d2"/><rect x="9" fill="#cdcdcd"/><rect x="10" fill="#c8c8c8"/><rect x="11" fill="#c3c3c3"/><rect x="12" fill="#c3c3c3"/><rect x="13" fill="#bebebe"/><rect x="14" fill="#bebebe"/></g>
</g>
<rect class="frame" x="322" y="615" width="95" height="95"/>
</g>

<g id="n4b">
<g transform="translate(427.7,615) scale(6.333,6.2)">
<rect width="15" height="16" fill="#f0f0f0"/>
<rect x="0" y="0" width="1" height="16" fill="#dedede"/>
<rect x="1" y="0" width="1" height="16" fill="#e6e6e6"/>
<rect x="2" y="0" width="13" height="1" fill="#e8e8e8"/>
<rect x="3" y="2" width="8" height="7" fill="#f6f6f6"/>
<rect x="8" y="5" width="1" height="1" fill="#fcfcfc"/>
<rect x="2" y="10" width="13" height="6" fill="#ececec"/>
</g>
<rect class="frame" x="427.7" y="615" width="95" height="95"/>
</g>

<g id="n4c">
<rect x="533.4" y="615" width="95" height="95" fill="#fff"/>
<rect x="533.4" y="615" width="12.7" height="18.6" fill="#f7f7f7"/>
<rect class="frame" x="533.4" y="615" width="95" height="95"/>
</g>

<g id="n4d">
<rect class="frame" x="639.1" y="615" width="95" height="95" style="fill:#fff"/>
</g>

<g id="n4e">
<rect class="frame" x="744.8" y="615" width="95" height="95" style="fill:#fff"/>
</g>

<g id="n4f">
<rect class="frame" x="850.5" y="615" width="95" height="95" style="fill:#fff"/>
</g>
</svg>
